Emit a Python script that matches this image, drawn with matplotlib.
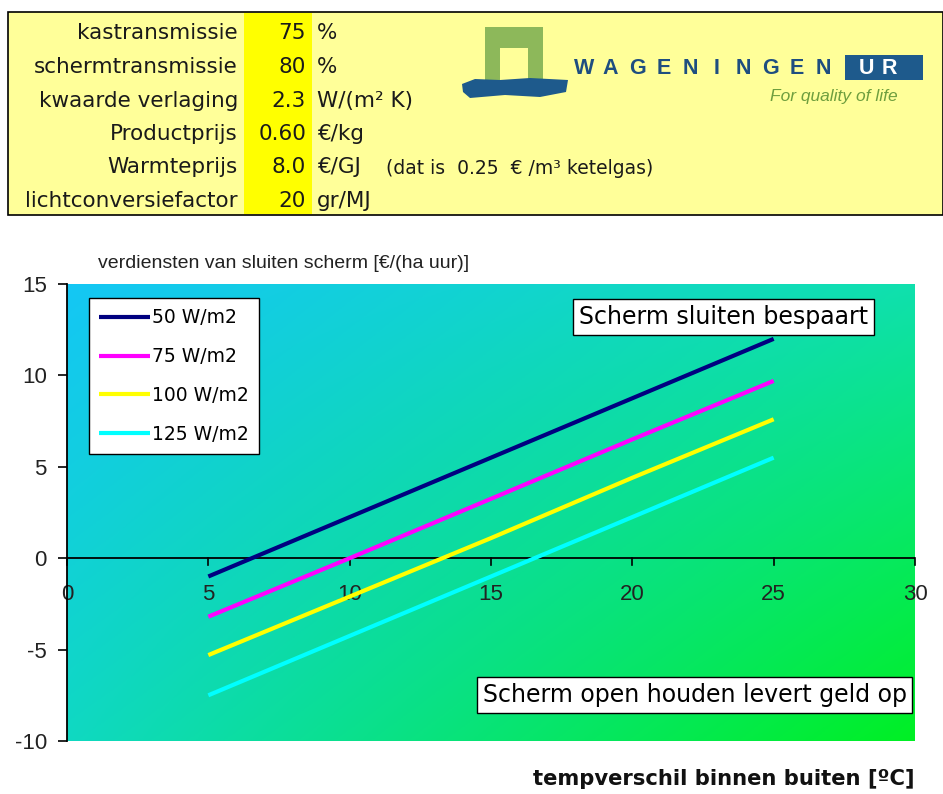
import numpy as np
import matplotlib
matplotlib.use("Agg")
import matplotlib.pyplot as plt
from matplotlib.patches import Rectangle, Polygon

plt.rcParams['font.family'] = ['DejaVu Sans']
ARIAL = ['Liberation Sans', 'DejaVu Sans']

# input parameters shown in the table
param_names = ['kastransmissie', 'schermtransmissie', 'kwaarde verlaging',
               'Productprijs', 'Warmteprijs', 'lichtconversiefactor']
param_values = ['75', '80', '2.3', '0.60', '8.0', '20']
param_units = ['%', '%', 'W/(m² K)', '€/kg', '€/GJ', 'gr/MJ']

# earnings of closing the screen, per light level
temp_diff = [5, 10, 15, 20, 25]
series_labels = ['50 W/m2', '75 W/m2', '100 W/m2', '125 W/m2']
earn_50 = [-1.0, 2.25, 5.5, 8.75, 12.0]
earn_75 = [-3.2, 0.0, 3.25, 6.5, 9.7]
earn_100 = [-5.3, -2.1, 1.1, 4.4, 7.6]
earn_125 = [-7.5, -4.25, -1.0, 2.25, 5.5]
series_colors = ['#000080', '#FF00FF', '#FFFF00', '#00FFFF']

x_ticks = [0, 5, 10, 15, 20, 25, 30]
y_ticks = [-10, -5, 0, 5, 10, 15]

W, H = 943, 794
fig = plt.figure(figsize=(W / 100, H / 100), dpi=100)
fig.patch.set_facecolor('white')

# overlay axes in pixel coordinates for the table and logo
ov = fig.add_axes([0, 0, 1, 1])
ov.set_xlim(0, W)
ov.set_ylim(H, 0)
ov.axis('off')

ov.add_patch(Rectangle((8, 12), W - 8, 203, facecolor='#FFFF99',
                       edgecolor='black', lw=1.2))
ov.add_patch(Rectangle((244, 12.6), 68, 201.8, facecolor='#FFFF00', lw=0))
row_y = [33, 67, 101, 134, 167, 201]
fs = 15.5
for name, val, unit, y in zip(param_names, param_values, param_units, row_y):
    ov.text(238, y, name, ha='right', va='center', fontsize=fs, color='#1a1a1a')
    ov.text(306, y, val, ha='right', va='center', fontsize=fs, color='#1a1a1a')
    ov.text(317, y, unit, ha='left', va='center', fontsize=fs, color='#1a1a1a')
ov.text(386, 168, '(dat is  0.25  € /m³ ketelgas)', ha='left', va='center',
        fontsize=13.5, color='#1a1a1a')

# logo
ov.add_patch(Polygon([(485, 82), (485, 27), (543, 27), (543, 82), (528, 82),
                      (528, 48), (500, 48), (500, 82)], closed=True,
                     facecolor='#8DB85A', lw=0))
ov.add_patch(Polygon([(462, 84), (475, 79), (500, 80), (530, 78), (568, 80),
                      (566, 92), (540, 97), (505, 95), (470, 98), (463, 92)],
                     closed=True, facecolor='#1E5A8C', lw=0))
for i, ch in enumerate('WAGENINGEN'):
    ov.text(584 + i * 26.6, 68, ch, ha='center', va='center', fontsize=15.5,
            fontweight='bold', color='#1E4E80', family=ARIAL)
ov.add_patch(Rectangle((845, 55), 78, 25, facecolor='#1E5A8C', lw=0))
ov.text(867, 68, 'U', ha='center', va='center', fontsize=15.5,
        fontweight='bold', color='white', family=ARIAL)
ov.text(889, 68, 'R', ha='center', va='center', fontsize=15.5,
        fontweight='bold', color='white', family=ARIAL)
ov.text(898, 97, 'For quality of life', ha='right', va='center', fontsize=12.5,
        style='italic', color='#6E9E3E', family=ARIAL)

# main chart
left, right, top, bottom = 67, 915, 284, 741
ax = fig.add_axes([left / W, 1 - bottom / H, (right - left) / W, (bottom - top) / H])
ax.set_xlim(0, 30)
ax.set_ylim(-10, 15)

# diagonal gradient background
tl = np.array([0.08, 0.78, 0.96])
tr = np.array([0.06, 0.88, 0.68])
bl = np.array([0.06, 0.85, 0.76])
br = np.array([0.00, 0.94, 0.14])
u = np.linspace(0, 1, 200)[None, :, None]
v = np.linspace(0, 1, 200)[:, None, None]
grad = (1 - u) * (1 - v) * tl + u * (1 - v) * tr + (1 - u) * v * bl + u * v * br
ax.imshow(grad, extent=[0, 30, -10, 15], aspect='auto', origin='upper', zorder=0)

for vals, lab, col in zip([earn_50, earn_75, earn_100, earn_125],
                          series_labels, series_colors):
    ax.plot(temp_diff, vals, color=col, lw=3, label=lab, zorder=3,
            solid_capstyle='butt')

ax.axhline(0, color='black', lw=1.3, zorder=2)
for s in ['top', 'right', 'bottom']:
    ax.spines[s].set_visible(False)
ax.spines['left'].set_linewidth(1.3)
ax.spines['left'].set_zorder(4)

ax.set_yticks(y_ticks)
ax.set_yticklabels([str(t) for t in y_ticks], fontsize=16, color='#222222',
                   family=ARIAL)
ax.tick_params(axis='y', length=6.5, width=1.2, pad=8)
ax.set_xticks([])
for t in x_ticks:
    ax.plot([t, t], [0, -0.35], color='black', lw=1.2, zorder=2, clip_on=False)
    ax.text(t, -2.0, str(t), ha='center', va='center', fontsize=16,
            color='#222222', zorder=2, family=ARIAL)

leg = ax.legend(loc='upper left', bbox_to_anchor=(0.026, 0.969),
                prop={'size': 13.5}, frameon=True, fancybox=False,
                edgecolor='black', handlelength=2.7, handletextpad=0.1,
                labelspacing=1.05, borderpad=0.55, borderaxespad=0)
leg.get_frame().set_linewidth(1.0)
leg.get_frame().set_facecolor('white')
leg.get_frame().set_alpha(1)

box = dict(boxstyle='square,pad=0.25', facecolor='white', edgecolor='black',
           lw=1.0)
ax.text(23.24, 13.19, 'Scherm sluiten bespaart', ha='center', va='center',
        fontsize=17, zorder=5, bbox=box)
ax.text(22.2, -7.48, 'Scherm open houden levert geld op', ha='center',
        va='center', fontsize=17, zorder=5, bbox=box)

ov.set_zorder(-1)
fig.text(98 / W, 1 - 263 / H, 'verdiensten van sluiten scherm [€/(ha uur)]',
         ha='left', va='center', fontsize=14, color='#222222', family=ARIAL)
fig.text(915 / W, 1 - 779 / H, 'tempverschil binnen buiten [ºC]', ha='right',
         va='center', fontsize=15.2, fontweight='bold', color='#111111')

fig.savefig('out.png', dpi=100)
